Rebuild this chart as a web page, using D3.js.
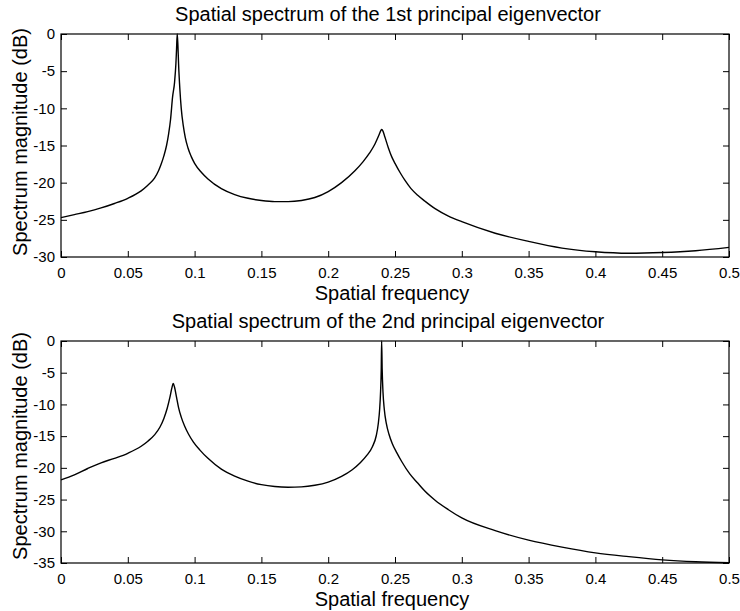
<!DOCTYPE html>
<html>
<head>
<meta charset="utf-8">
<script src="https://cdn.jsdelivr.net/npm/d3@7/dist/d3.min.js"></script>
<style>
  html, body { margin: 0; padding: 0; background: #fff; }
  svg { display: block; }
  text { font-family: "Liberation Sans", Arial, Helvetica, sans-serif; fill: #000; }
</style>
</head>
<body>
<svg id="chart" width="740" height="611"></svg>
<script>
// ---- data ----
const titles = ["Spatial spectrum of the 1st principal eigenvector",
                "Spatial spectrum of the 2nd principal eigenvector"];
const xLabel = "Spatial frequency";
const yLabel = "Spectrum magnitude (dB)";
const xTicks = [0, 0.05, 0.1, 0.15, 0.2, 0.25, 0.3, 0.35, 0.4, 0.45, 0.5];
const yTicks1 = [0, -5, -10, -15, -20, -25, -30];
const yTicks2 = [0, -5, -10, -15, -20, -25, -30, -35];

const freq1 = [0, 0.01, 0.02, 0.03, 0.04, 0.05, 0.06, 0.065, 0.07, 0.073, 0.075, 0.077, 0.079, 0.0805, 0.082, 0.0835,
  0.085, 0.086, 0.0865, 0.087,
  0.0875, 0.088, 0.089, 0.09, 0.0915, 0.093, 0.095, 0.0975, 0.1, 0.105, 0.11, 0.12, 0.13, 0.14, 0.15, 0.16, 0.17,
  0.18, 0.19, 0.2, 0.21, 0.22, 0.226, 0.231, 0.235, 0.238, 0.2395, 0.24, 0.2408, 0.2425, 0.245, 0.2475, 0.25,
  0.254, 0.2575, 0.262, 0.267, 0.2725, 0.28, 0.29, 0.3,
  0.325, 0.35, 0.375, 0.4, 0.425, 0.45, 0.475, 0.5];
const mag1 = [-24.7, -24.3, -23.9, -23.4, -22.8, -22.1, -21.1, -20.35, -19.4, -18.4, -17.5, -16.4, -15.0, -13.5, -11.5, -8.5,
  -6.5, -4.0, -2.0, 0,
  -1.5, -4.0, -7.5, -10.0, -12.3, -13.9, -15.3, -16.5, -17.4, -18.6, -19.5, -20.8, -21.6, -22.1, -22.4, -22.55, -22.55,
  -22.4, -22.0, -21.2, -20.0, -18.4, -17.2, -16.0, -14.8, -13.6, -12.95, -12.85, -13.0, -13.9, -15.3, -16.5, -17.4,
  -18.7, -19.7, -20.8, -21.7, -22.5, -23.5, -24.5, -25.25,
  -26.8, -27.9, -28.8, -29.3, -29.5, -29.4, -29.15, -28.7];

const freq2 = [0, 0.01, 0.02, 0.03, 0.04, 0.05, 0.06, 0.065, 0.07, 0.074, 0.077, 0.0795, 0.0815, 0.083, 0.084,
  0.085, 0.0865, 0.088, 0.09, 0.0925, 0.0955, 0.099, 0.104, 0.11, 0.12, 0.13, 0.14, 0.15, 0.16, 0.17, 0.18, 0.19,
  0.2, 0.21, 0.218, 0.224, 0.229, 0.233, 0.236, 0.2375, 0.2385, 0.2392, 0.2397, 0.24, 0.2404, 0.241, 0.242, 0.2435,
  0.2455, 0.248, 0.2513, 0.255, 0.2612, 0.267, 0.2725, 0.28, 0.29, 0.3,
  0.325, 0.35, 0.375, 0.4, 0.425, 0.45, 0.475, 0.5];
const mag2 = [-21.9, -21.1, -20.1, -19.2, -18.5, -17.7, -16.6, -15.8, -14.8, -13.6, -12.2, -10.6, -8.9, -7.4, -6.7,
  -7.3, -8.9, -10.5, -12.0, -13.4, -14.7, -15.9, -17.2, -18.5, -20.2, -21.3, -22.1, -22.65, -22.95, -23.05, -23.0, -22.75,
  -22.25, -21.35, -20.3, -19.2, -18.0, -16.7, -14.9, -13.0, -10.8, -8.0, -4.5, 0, -4.5, -8.0, -10.8, -13.0,
  -14.7, -16.2, -17.6, -19.0, -21.0, -22.4, -23.7, -25.1, -26.6, -27.9,
  -29.9, -31.4, -32.5, -33.4, -34.0, -34.5, -34.8, -34.95];

// ---- layout ----
const svg = d3.select("#chart");
const panels = [
  { title: titles[0], freq: freq1, mag: mag1, yTicks: yTicks1, yMin: -30, top: 34, bottom: 257, ylabelCy: 142 },
  { title: titles[1], freq: freq2, mag: mag2, yTicks: yTicks2, yMin: -35, top: 341, bottom: 563, ylabelCy: 446 }
];
const left = 61, right = 729;

panels.forEach(p => {
  const x = d3.scaleLinear().domain([0, 0.5]).range([left, right]);
  const y = d3.scaleLinear().domain([p.yMin, 0]).range([p.bottom, p.top]);
  const g = svg.append("g");

  const fmt = d => String(d);
  const tick = 6;

  const gb = g.append("g").attr("transform", `translate(0,${p.bottom})`)
    .call(d3.axisBottom(x).tickValues(xTicks).tickFormat(fmt).tickSizeInner(-tick).tickSizeOuter(0).tickPadding(10));
  const gl = g.append("g").attr("transform", `translate(${left},0)`)
    .call(d3.axisLeft(y).tickValues(p.yTicks).tickFormat(fmt).tickSizeInner(-tick).tickSizeOuter(0).tickPadding(6));
  const gt = g.append("g").attr("transform", `translate(0,${p.top})`)
    .call(d3.axisTop(x).tickValues(xTicks).tickFormat("").tickSizeInner(-tick).tickSizeOuter(0));
  const gr = g.append("g").attr("transform", `translate(${right},0)`)
    .call(d3.axisRight(y).tickValues(p.yTicks).tickFormat("").tickSizeInner(-tick).tickSizeOuter(0));

  [gb, gl, gt, gr].forEach(a => {
    a.select(".domain").remove();
    a.selectAll("line").attr("stroke", "#000").attr("stroke-width", 1);
    a.selectAll("text").style("font-family", '"Liberation Sans", Arial, sans-serif')
      .style("font-size", "15px").attr("fill", "#000");
  });

  g.append("rect")
    .attr("x", left).attr("y", p.top)
    .attr("width", right - left).attr("height", p.bottom - p.top)
    .attr("fill", "none").attr("stroke", "#000").attr("stroke-width", 1.2);

  const data = p.freq.map((f, i) => [f, p.mag[i]]);
  g.append("path")
    .datum(data)
    .attr("fill", "none")
    .attr("stroke", "#000")
    .attr("stroke-width", 1.4)
    .attr("stroke-linejoin", "round")
    .attr("d", d3.line().x(d => x(d[0])).y(d => y(d[1])).curve(d3.curveMonotoneX));

  g.append("text")
    .attr("x", 388).attr("y", p.top - 13)
    .attr("text-anchor", "middle")
    .style("font-size", "20px")
    .text(p.title);

  g.append("text")
    .attr("x", 392).attr("y", p.bottom + 43)
    .attr("text-anchor", "middle")
    .style("font-size", "20px")
    .text(xLabel);

  g.append("text")
    .attr("transform", `translate(27,${p.ylabelCy}) rotate(-90)`)
    .attr("text-anchor", "middle")
    .style("font-size", "20px")
    .text(yLabel);
});
</script>
</body>
</html>
